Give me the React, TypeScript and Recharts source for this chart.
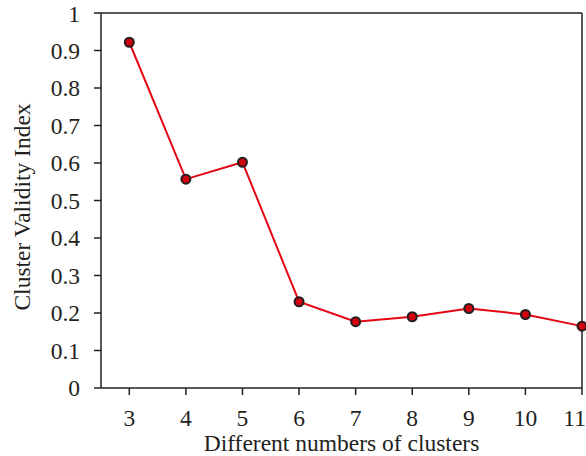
import {
  LineChart,
  Line,
  XAxis,
  YAxis,
  ReferenceLine,
  Label,
} from "recharts";

const clusterCounts = [3, 4, 5, 6, 7, 8, 9, 10, 11];
const validityIndex = [0.922, 0.557, 0.602, 0.23, 0.177, 0.19, 0.212, 0.196, 0.165];
const yTicks = [0, 0.1, 0.2, 0.3, 0.4, 0.5, 0.6, 0.7, 0.8, 0.9, 1];

const data = clusterCounts.map((k, i) => ({ k, value: validityIndex[i] }));

const FONT = '"Liberation Serif", "Times New Roman", serif';
const AXIS = "#231f20";

export default function App() {
  return (
    <div style={{ position: "absolute", left: 0, top: 0 }}>
      <LineChart
        width={586}
        height={456}
        data={data}
        margin={{ top: 13, right: 4, left: 0, bottom: 0 }}
        style={{ fontFamily: FONT }}
      >
        <XAxis
          dataKey="k"
          type="number"
          domain={[2.5, 11]}
          ticks={clusterCounts}
          height={68}
          tickSize={7}
          tickMargin={14}
          stroke={AXIS}
          strokeWidth={1.5}
          tick={{ fill: AXIS, fontSize: 23.5, fontFamily: FONT }}
        >
          <Label
            value="Different numbers of clusters"
            position="insideBottom"
            offset={5}
            fill={AXIS}
            fontSize={23.5}
            fontFamily={FONT}
          />
        </XAxis>
        <YAxis
          type="number"
          domain={[0, 1]}
          ticks={yTicks}
          width={101}
          tickSize={7}
          tickMargin={14}
          stroke={AXIS}
          strokeWidth={1.5}
          tick={{ fill: AXIS, fontSize: 23.5, fontFamily: FONT }}
          label={{
            content: () => (
              <text
                x={22}
                y={207}
                transform="rotate(-90 22 207)"
                textAnchor="middle"
                dominantBaseline="central"
                fill={AXIS}
                fontSize={23.5}
                fontFamily={FONT}
              >
                Cluster Validity Index
              </text>
            ),
          }}
        />
        <ReferenceLine y={1} stroke={AXIS} strokeWidth={1.5} />
        <ReferenceLine x={11} stroke={AXIS} strokeWidth={1.5} />
        <Line
          dataKey="value"
          stroke="#e30613"
          strokeWidth={2}
          dot={{ r: 4.5, fill: "#d0000f", stroke: "#231f20", strokeWidth: 2 }}
          isAnimationActive={false}
        />
      </LineChart>
    </div>
  );
}
